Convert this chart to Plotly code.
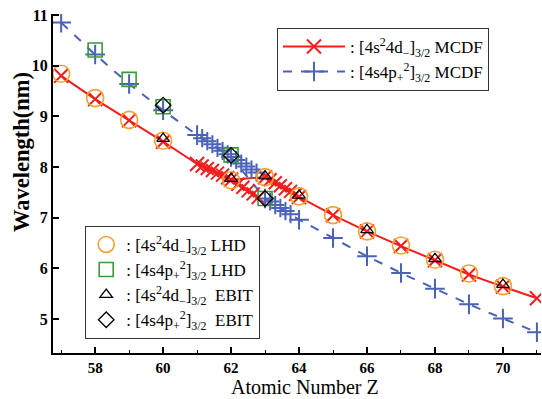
import plotly.graph_objects as go

# ---- data ----
z_int = [57, 58, 59, 60, 61, 62, 63, 64, 65, 66, 67, 68, 69, 70, 71]
red_mcdf = [9.80, 9.34, 8.92, 8.50, 8.06, 7.75, 7.80, 7.41, 7.05, 6.73, 6.44, 6.16, 5.88, 5.64, 5.41]
blue_mcdf = [10.85, 10.22, 9.64, 9.12, 8.63, 8.20, 7.38, 6.96, 6.60, 6.24, 5.91, 5.60, 5.29, 5.01, 4.74]

# dense MCDF calculations near the level crossing
red_dense_z = [61.15, 61.3, 61.45, 61.6, 61.75, 61.9, 62.2, 62.35, 62.5, 62.65, 62.8,
               63.15, 63.3, 63.45, 63.6, 63.75, 63.9]
red_dense_w = [8.02, 7.97, 7.93, 7.88, 7.84, 7.79, 7.66, 7.60, 7.53, 7.47, 7.40,
               7.75, 7.69, 7.63, 7.57, 7.52, 7.46]
blue_dense_z = [61.15, 61.3, 61.45, 61.6, 61.75, 61.9, 62.15, 62.3, 62.45, 62.6, 62.75,
                63.15, 63.3, 63.45, 63.6, 63.75]
blue_dense_w = [8.57, 8.51, 8.45, 8.38, 8.32, 8.25, 8.14, 8.07, 8.01, 7.95, 7.89,
                7.32, 7.25, 7.19, 7.13, 7.07]

lhd_d_z = [57, 58, 59, 60, 62, 63, 64, 65, 66, 67, 68, 69, 70]
lhd_d_w = [9.84, 9.36, 8.93, 8.52, 7.74, 7.80, 7.42, 7.05, 6.73, 6.45, 6.17, 5.90, 5.65]
lhd_p_z = [58, 59, 60, 62, 63]
lhd_p_w = [10.31, 9.73, 9.19, 8.24, 7.38]
ebit_d_z = [60, 62, 63, 64, 66, 68, 70]
ebit_d_w = [8.56, 7.77, 7.82, 7.44, 6.76, 6.19, 5.68]
ebit_p_z = [60, 62, 63]
ebit_p_w = [9.22, 8.23, 7.38]

RED = "#f21d1d"
BLUE = "#4a62b8"
ORANGE = "#f7a030"
GREEN = "#3a9a3a"
FONT = "Liberation Serif"

lab_d = ": [4s<sup>2</sup>4d<sub>−</sub>]<sub>3/2</sub>"
lab_p = ": [4s4p<sub>+</sub><sup>2</sup>]<sub>3/2</sub>"

fig = go.Figure()

# MCDF lines
fig.add_trace(go.Scatter(x=z_int, y=red_mcdf, mode="lines+markers", name=lab_d + " MCDF",
                         line=dict(color=RED, width=2),
                         marker=dict(symbol="x-thin", size=14, line=dict(width=2, color=RED)),
                         legend="legend"))
fig.add_trace(go.Scatter(x=z_int, y=blue_mcdf, mode="lines+markers", name=lab_p + " MCDF",
                         line=dict(color=BLUE, width=2, dash="dash"),
                         marker=dict(symbol="cross-thin", size=14, line=dict(width=2, color=BLUE)),
                         legend="legend"))
fig.add_trace(go.Scatter(x=red_dense_z, y=red_dense_w, mode="markers", showlegend=False,
                         marker=dict(symbol="x-thin", size=13, color=RED, line=dict(width=2, color=RED))))
fig.add_trace(go.Scatter(x=blue_dense_z, y=blue_dense_w, mode="markers", showlegend=False,
                         marker=dict(symbol="cross-thin", size=13, color=BLUE, line=dict(width=2, color=BLUE))))

# experiments
fig.add_trace(go.Scatter(x=lhd_d_z, y=lhd_d_w, mode="markers", name=lab_d + " LHD",
                         marker=dict(symbol="circle-open", size=17, color=ORANGE, line=dict(width=1.6)),
                         legend="legend2"))
fig.add_trace(go.Scatter(x=lhd_p_z, y=lhd_p_w, mode="markers", name=lab_p + " LHD",
                         marker=dict(symbol="square-open", size=14, color=GREEN, line=dict(width=1.6)),
                         legend="legend2"))
fig.add_trace(go.Scatter(x=ebit_d_z, y=ebit_d_w, mode="markers", name=lab_d + "  EBIT",
                         marker=dict(symbol="triangle-up-open", size=11, color="black", line=dict(width=1.3)),
                         legend="legend2"))
fig.add_trace(go.Scatter(x=ebit_p_z, y=ebit_p_w, mode="markers", name=lab_p + "  EBIT",
                         marker=dict(symbol="diamond-open", size=12, color="black", line=dict(width=1.3)),
                         legend="legend2"))

fig.update_layout(
    width=542, height=399,
    margin=dict(l=53, r=1, t=14, b=46),
    plot_bgcolor="white", paper_bgcolor="white",
    font=dict(family=FONT, color="black", size=17),
    legend=dict(x=0.459, y=0.959, xanchor="left", yanchor="top",
                bordercolor="#333", borderwidth=1, bgcolor="white",
                font=dict(size=17, family=FONT), tracegroupgap=0, itemwidth=62),
    legend2=dict(x=0.066, y=0.375, xanchor="left", yanchor="top",
                 bordercolor="#333", borderwidth=1, bgcolor="white",
                 font=dict(size=17, family=FONT), tracegroupgap=0, itemwidth=30),
    annotations=[
        dict(text="<b>Wavelength(nm)</b>", textangle=-90, xref="paper", yref="paper",
             x=-32 / 488, y=(353 - 152) / 339, xanchor="center", yanchor="middle",
             showarrow=False, font=dict(family=FONT, size=22.5)),
        dict(text="Atomic Number Z", xref="paper", yref="paper",
             x=(305 - 53) / 488, y=-(387 - 353) / 339, xanchor="center", yanchor="middle",
             showarrow=False, font=dict(family=FONT, size=20)),
    ],
)
fig.update_xaxes(range=[56.76, 71.12], showgrid=False, zeroline=False, automargin=False,
                 showline=True, linecolor="black", linewidth=2,
                 tickmode="array", tickvals=[58, 60, 62, 64, 66, 68, 70],
                 ticks="inside", ticklen=6, tickwidth=1.5, tickcolor="black",
                 minor=dict(tickvals=[57, 59, 61, 63, 65, 67, 69, 71], ticks="inside",
                            ticklen=3, tickwidth=1.2, tickcolor="black"),
                 tickfont=dict(family=FONT, size=15, weight="bold"))
fig.update_yaxes(range=[4.33, 11.02], showgrid=False, zeroline=False, automargin=False,
                 showline=True, linecolor="black", linewidth=2,
                 tickmode="array", tickvals=[5, 6, 7, 8, 9, 10, 11],
                 ticks="inside", ticklen=6, tickwidth=1.5, tickcolor="black",
                 tickfont=dict(family=FONT, size=16, weight="bold"))

fig.write_html("out.html")
